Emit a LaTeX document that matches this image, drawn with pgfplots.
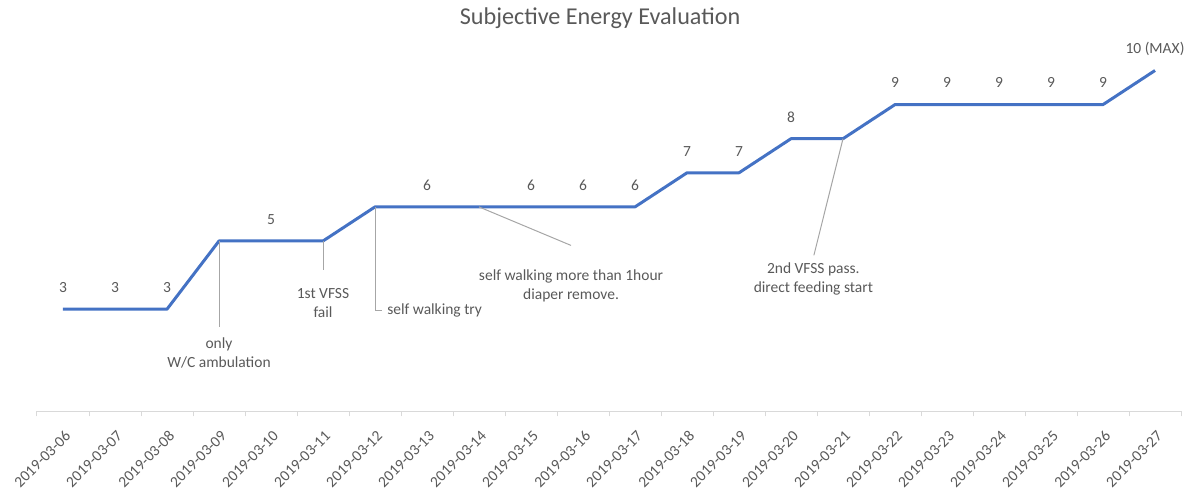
\documentclass[border=0pt]{standalone}
\usepackage{pgfplots}
\pgfplotsset{compat=1.18}
\usepackage{pgfplotstable}
\usepackage{fontspec}
\setmainfont{Carlito}
\definecolor{lineblue}{HTML}{4472C4}
\definecolor{txtgray}{HTML}{595959}
\definecolor{axgray}{HTML}{D9D9D9}
\definecolor{leader}{HTML}{A6A6A6}
\tikzset{
  annot/.style={font=\fontsize{9.3}{11.4}\selectfont, text=txtgray, align=center, inner sep=0pt},
  callout/.style={leader, line width=0.6pt},
}

% daily score, with the label shown above each day (empty = no label)
\pgfplotstableread{
idx score lbl
0  3  3
1  3  3
2  3  3
3  5  {}
4  5  5
5  5  {}
6  6  {}
7  6  6
8  6  {}
9  6  6
10 6  6
11 6  6
12 7  7
13 7  7
14 8  8
15 8  {}
16 9  9
17 9  9
18 9  9
19 9  9
20 9  9
21 10 {10 (MAX)}
}\energy

\begin{document}
\begin{tikzpicture}
\path[use as bounding box] (-22.2pt,-52.5pt) rectangle (696pt,246.9pt);
\node[font=\fontsize{14.5}{17}\selectfont, text=txtgray] at (337.8pt,236.1pt) {Subjective Energy Evaluation};
\begin{axis}[
  at={(0,0)}, anchor=south west,
  scale only axis, width=686.4pt, height=225.06pt,
  xmin=-0.5, xmax=21.5, ymin=0, ymax=11,
  axis y line=none, axis x line*=bottom,
  x axis line style={axgray, line width=0.8pt, -},
  xtick={0,...,21},
  xticklabels={2019-03-06,2019-03-07,2019-03-08,2019-03-09,2019-03-10,2019-03-11,2019-03-12,2019-03-13,2019-03-14,2019-03-15,2019-03-16,2019-03-17,2019-03-18,2019-03-19,2019-03-20,2019-03-21,2019-03-22,2019-03-23,2019-03-24,2019-03-25,2019-03-26,2019-03-27},
  major tick length=0pt,
  minor xtick={-0.5,0.5,...,21.5},
  minor tick length=3pt, tick align=outside,
  minor tick style={axgray, line width=0.6pt},
  xticklabel style={xshift=3pt, yshift=-13pt, rotate=45, anchor=east, inner sep=0pt,
    font=\fontsize{9.3}{11}\selectfont, text=txtgray},
  clip=false,
]
\addplot[lineblue, line width=1.8pt, line join=round,
  nodes near coords, point meta=explicit symbolic,
  every node near coord/.append style={anchor=center, yshift=13pt,
    font=\fontsize{9.3}{11}\selectfont, text=txtgray}]
  table[x=idx, y=score, meta=lbl] {\energy};

% event call-outs
\draw[callout] (axis cs:3,5) -- (axis cs:3,2.47);
\node[annot] at (axis cs:3,1.73) {only\\W/C ambulation};
\draw[callout] (axis cs:5,5) -- (axis cs:5,4.14);
\node[annot] at (axis cs:5,3.19) {1st VFSS\\fail};
\draw[callout] (axis cs:6,6) -- (axis cs:6,2.97) -- (axis cs:6.13,2.97);
\node[annot, anchor=west] at (axis cs:6.23,2.97) {self walking try};
\draw[callout] (axis cs:8,6) -- (axis cs:9.77,4.87);
\node[annot] at (axis cs:9.77,3.69) {self walking more than 1hour\\diaper remove.};
\draw[callout] (axis cs:15,8) -- (axis cs:14.44,4.58);
\node[annot] at (axis cs:14.43,3.89) {2nd VFSS pass.\\direct feeding start};
\end{axis}
\end{tikzpicture}
\end{document}
